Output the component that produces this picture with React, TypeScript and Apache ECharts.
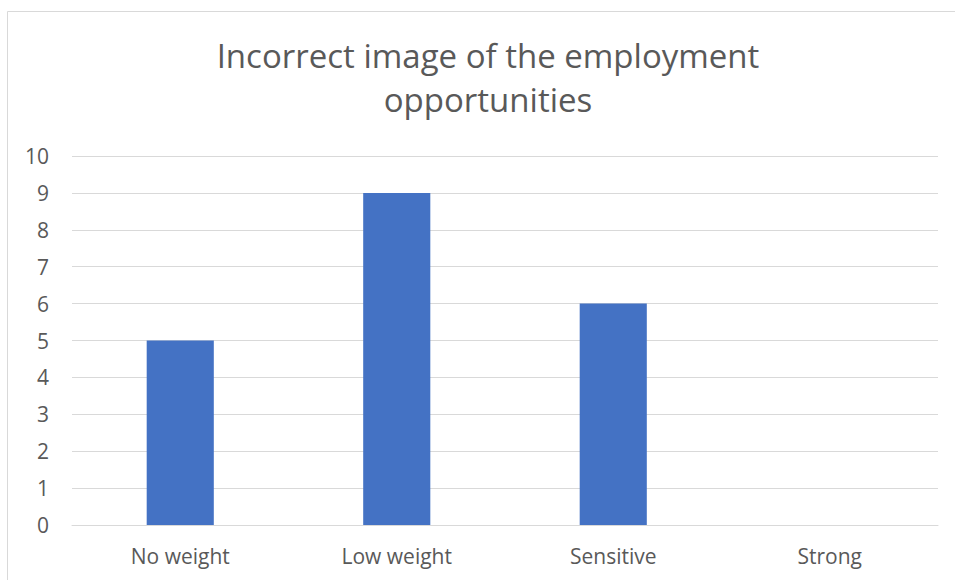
import React, { useEffect, useRef } from "react";
import * as echarts from "echarts";

const categories = ["No weight", "Low weight", "Sensitive", "Strong"];
const counts = [5, 9, 6, 0];
const titleLines = ["Incorrect image of the employment", "opportunities"];
const yMin = 0;
const yMax = 10;
const yStep = 1;

const FONT = "'Open Sans', sans-serif";
const TEXT = "#595959";

export default function App() {
  const ref = useRef<HTMLDivElement>(null);

  useEffect(() => {
    document.body.style.margin = "0";
    if (!ref.current) return;
    const chart = echarts.init(ref.current, null, { renderer: "svg" });
    chart.setOption({
      animation: false,
      backgroundColor: "#ffffff",
      textStyle: { fontFamily: FONT },
      graphic: [
        {
          type: "rect",
          shape: { x: 7.5, y: 11.5, width: 1000, height: 600 },
          style: { fill: "none", stroke: "#d9d9d9", lineWidth: 1 },
          silent: true,
        },
        {
          type: "text",
          x: 488,
          y: 33,
          style: {
            text: titleLines.join("\n"),
            font: `33px ${FONT}`,
            fill: TEXT,
            align: "center",
            verticalAlign: "top",
            lineHeight: 44,
          },
        },
      ],
      grid: { left: 72, right: 17, top: 156, bottom: 55, containLabel: false },
      xAxis: {
        type: "category",
        data: categories,
        axisLine: { show: true, lineStyle: { color: "#d9d9d9", width: 1 } },
        axisTick: { show: false },
        axisLabel: { color: TEXT, fontSize: 21, margin: 20, fontFamily: FONT },
      },
      yAxis: {
        type: "value",
        min: yMin,
        max: yMax,
        interval: yStep,
        axisLine: { show: false },
        axisTick: { show: false },
        splitLine: { lineStyle: { color: "#d9d9d9", width: 1 } },
        axisLabel: { color: TEXT, fontSize: 21, margin: 23, fontFamily: FONT },
      },
      series: [
        {
          type: "bar",
          data: counts,
          barCategoryGap: "69%",
          itemStyle: { color: "#4472c4" },
        },
      ],
    });
    return () => chart.dispose();
  }, []);

  return <div ref={ref} style={{ width: 955, height: 580 }} />;
}
